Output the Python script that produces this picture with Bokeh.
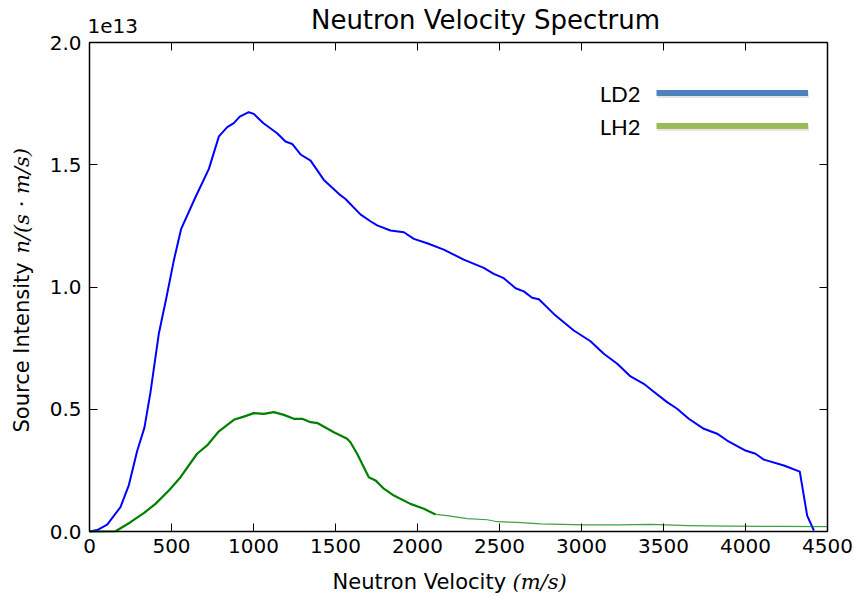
import math
from bokeh.plotting import figure
from bokeh.models import (Range1d, FixedTicker, PrintfTickFormatter, LinearAxis, Label,
                          Legend, LegendItem, CustomJSTickFormatter)
from bokeh.embed import file_html
from bokeh.resources import INLINE

# ---------------- data (intensity in units of 1e13 n/(s*m/s)) ----------------
ld2_velocity = [0, 47, 108, 189, 240, 291, 335, 372, 423, 470, 514, 559, 646, 728, 789, 840,
                880, 916, 971, 1002, 1059, 1144, 1195, 1236, 1287, 1348, 1429, 1520, 1561,
                1652, 1713, 1754, 1835, 1917, 1978, 2059, 2160, 2282, 2404, 2465, 2526, 2598,
                2648, 2699, 2740, 2831, 2953, 3055, 3136, 3218, 3299, 3380, 3431, 3522, 3583,
                3654, 3746, 3827, 3888, 4000, 4061, 4112, 4234, 4331, 4376, 4417]
ld2_intensity = [0.0, 0.006, 0.028, 0.10, 0.19, 0.33, 0.425, 0.57, 0.81, 0.96, 1.108, 1.238,
                 1.367, 1.483, 1.616, 1.654, 1.67, 1.697, 1.715, 1.708, 1.671, 1.629, 1.595,
                 1.585, 1.542, 1.517, 1.438, 1.381, 1.36, 1.297, 1.269, 1.252, 1.231, 1.224,
                 1.197, 1.179, 1.153, 1.112, 1.078, 1.054, 1.036, 0.995, 0.982, 0.956, 0.95,
                 0.89, 0.822, 0.778, 0.727, 0.686, 0.634, 0.604, 0.577, 0.529, 0.502, 0.461,
                 0.42, 0.40, 0.372, 0.331, 0.318, 0.294, 0.27, 0.245, 0.065, 0.004]

lh2_velocity = [0, 159, 250, 331, 402, 484, 555, 656, 717, 789, 880, 941, 1002, 1063, 1124,
                1185, 1246, 1297, 1348, 1392, 1490, 1571, 1591, 1632, 1703, 1744, 1795, 1856,
                1957, 2039, 2110, 2181, 2303, 2425, 2486, 2608, 2750, 3014, 3218, 3421, 3650,
                3900, 4200, 4500]
lh2_intensity = [0.0, 0.001, 0.038, 0.075, 0.113, 0.168, 0.222, 0.318, 0.352, 0.41, 0.457,
                 0.47, 0.484, 0.481, 0.488, 0.477, 0.461, 0.461, 0.447, 0.443, 0.406, 0.379,
                 0.365, 0.318, 0.222, 0.209, 0.175, 0.147, 0.113, 0.093, 0.07, 0.065, 0.053,
                 0.048, 0.04, 0.037, 0.031, 0.027, 0.027, 0.029, 0.024, 0.022, 0.021, 0.02]

x_ticks = [0, 500, 1000, 1500, 2000, 2500, 3000, 3500, 4000, 4500]
y_ticks = [0.0, 0.5, 1.0, 1.5, 2.0]
x_min, x_max = 0, 4500
y_min, y_max = 0.0, 2.0

title_text = "Neutron Velocity Spectrum"
x_label_text = "Neutron Velocity"
x_label_unit = "(m/s)"
y_label_text = "Source Intensity"
y_label_unit = "n/(s \u00b7 m/s)"
offset_text = "1e13"
legend_names = ["LD2", "LH2"]
legend_colors = ["#4f81bd", "#9bbb59"]

# ---------------- layout: plot box inside a full-canvas frame ----------------
W, H = 854, 597
BOX_L, BOX_R, BOX_T, BOX_B = 89, 827, 42, 531          # pixel edges of the axes box
kx = (BOX_R - BOX_L) / (x_max - x_min)                   # px per data unit
ky = (BOX_B - BOX_T) / (y_max - y_min)
xr = Range1d(x_min - BOX_L / kx, x_max + (W - BOX_R) / kx)
yr = Range1d(y_min - (H - BOX_B) / ky, y_max + BOX_T / ky)

FONT = "DejaVu Sans"
p = figure(width=W, height=H, output_backend="svg", toolbar_location=None, title=None,
           x_range=xr, y_range=yr, min_border=0)
p.grid.visible = False
p.background_fill_color = "white"
p.border_fill_color = "white"
p.outline_line_color = None

def style_axis(ax, fixed, bounds, ticks):
    ax.fixed_location = fixed
    ax.bounds = bounds
    ax.ticker = FixedTicker(ticks=ticks)
    ax.major_tick_in = 8
    ax.major_tick_out = 0
    ax.minor_tick_line_color = None
    ax.major_tick_line_color = "black"
    ax.major_tick_line_width = 1
    ax.axis_line_color = "black"
    ax.axis_line_width = 1.5
    ax.major_label_text_font = FONT
    ax.major_label_text_font_size = "20px"
    ax.major_label_text_color = "black"

bottom = p.xaxis[0]
left = p.yaxis[0]
style_axis(bottom, y_min, (x_min, x_max), x_ticks)
style_axis(left, x_min, (y_min, y_max), y_ticks)
left.formatter = PrintfTickFormatter(format="%.1f")
bottom.major_label_standoff = 7
left.major_label_standoff = 8

blank = CustomJSTickFormatter(code="return ''")
top_ax = LinearAxis(formatter=blank)
right_ax = LinearAxis(formatter=blank)
style_axis(top_ax, y_max, (x_min, x_max), x_ticks)
style_axis(right_ax, x_max, (y_min, y_max), y_ticks)
for ax in (top_ax, right_ax):
    ax.major_label_text_font_size = "0px"
    ax.major_label_standoff = 0
p.add_layout(top_ax, "above")
p.add_layout(right_ax, "right")

# ---------------- data lines ----------------
p.line(ld2_velocity, ld2_intensity, line_color="#0000ff", line_width=2, line_join="round")
split = [i for i, v in enumerate(lh2_velocity) if v <= 2110][-1] + 1
p.line(lh2_velocity[:split], lh2_intensity[:split], line_color="#008000", line_width=2.2,
       line_join="round")
p.line(lh2_velocity[split - 1:], lh2_intensity[split - 1:], line_color="#008000",
       line_alpha=0.75, line_width=1.2, line_join="round")

# ---------------- texts (anchored at box corners, pixel offsets, y up) ----------------
def lab(text, xo, yo, size, anchor_y=y_min, font=FONT, style="normal", align="left",
        angle=0.0):
    p.add_layout(Label(x=x_min, y=anchor_y, x_offset=xo, y_offset=yo, text=text,
                       text_font=font, text_font_size=size, text_font_style=style,
                       text_align=align, text_baseline="alphabetic", text_color="black",
                       angle=angle))

lab(title_text, 396, 23, "26px", anchor_y=y_max, align="center")
lab(offset_text, -2, 17, "20px", anchor_y=y_max)
lab(x_label_text, 243, -50, "21px")
lab(x_label_unit, 423, -50, "21px", font="DejaVu Serif", style="italic")
lab(y_label_text, -68, 99, "21px", angle=math.pi / 2)
lab(y_label_unit, -68, 278, "21px", font="DejaVu Serif", style="italic", angle=math.pi / 2)

# ---------------- legend (text left of the line) ----------------
nan = float("nan")
shadow_items, items = [], []
for name, col in zip(legend_names, legend_colors):
    rs = p.line([nan], [nan], line_color="#888888", line_alpha=0.22, line_width=6)
    r = p.line([nan], [nan], line_color=col, line_width=6)
    shadow_items.append(LegendItem(label=" ", renderers=[rs]))
    items.append(LegendItem(label=" ", renderers=[r]))

LEG_X, LEG_TOP, ROW = 656, 76, 33
def mk_legend(its, dx, dy):
    lg = Legend(items=its, location=(LEG_X + dx, H - (LEG_TOP + dy) - 2 * ROW),
                glyph_width=152, glyph_height=ROW, spacing=0, padding=0, margin=0,
                label_standoff=0, label_width=0, label_height=0,
                label_text_font_size="1px", border_line_color=None,
                background_fill_alpha=0)
    p.add_layout(lg)

mk_legend(shadow_items, 1, 2)
mk_legend(items, 0, 0)

for i, name in enumerate(legend_names):
    lab(name, 551, -51 - ROW * i, "22px", anchor_y=y_max, font="Lato", align="right")

open("out.html", "w").write(file_html(p, INLINE))
